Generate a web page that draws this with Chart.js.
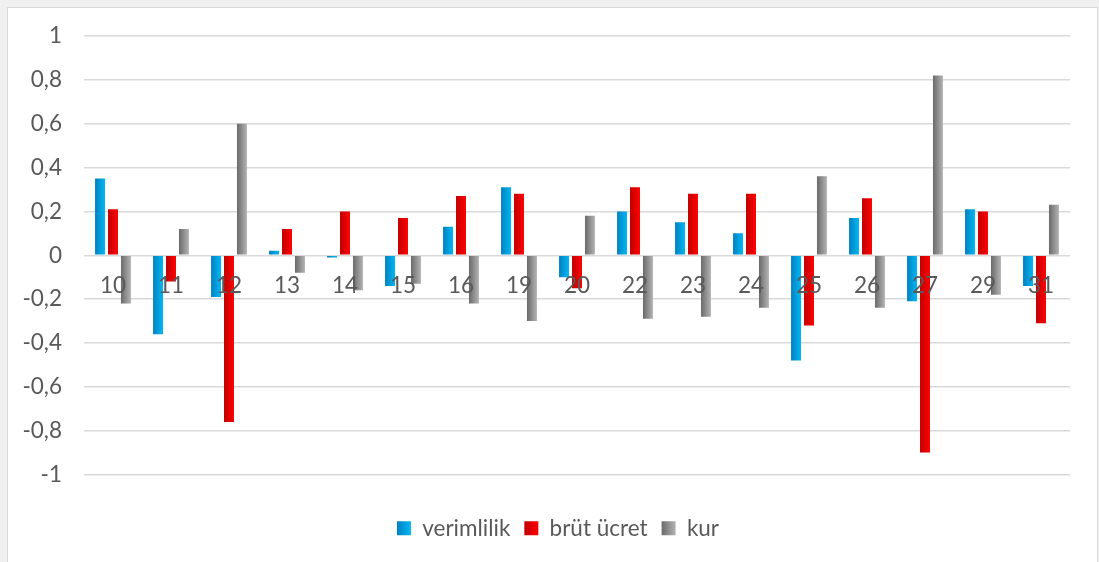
<!DOCTYPE html>
<html>
<head>
<meta charset="utf-8">
<script src="https://cdn.jsdelivr.net/npm/chart.js@4.4.1/dist/chart.umd.min.js"></script>
<style>
    html, body { margin: 0; padding: 0; background: #f0f0f0; overflow: hidden; width: 1099px; height: 562px; }
    #box { position: absolute; left: 7px; top: 7px; width: 1089px; height: 600px; background: #fff; border: 1px solid #d9d9d9; }
    #chart { display: block; }
</style>
</head>
<body>
<div id="box"><canvas id="chart" width="1089" height="560"></canvas></div>
<script>
(function () {
    const categories = ['10', '11', '12', '13', '14', '15', '16', '19', '20', '22', '23', '24', '25', '26', '27', '29', '31'];
    const verimlilik = [0.35, -0.36, -0.19, 0.02, -0.01, -0.14, 0.13, 0.31, -0.10, 0.20, 0.15, 0.10, -0.48, 0.17, -0.21, 0.21, -0.14];
    const brutUcret = [0.21, -0.12, -0.76, 0.12, 0.20, 0.17, 0.27, 0.28, -0.15, 0.31, 0.28, 0.28, -0.32, 0.26, -0.90, 0.20, -0.31];
    const kur = [-0.22, 0.12, 0.60, -0.08, -0.16, -0.13, -0.22, -0.30, 0.18, -0.29, -0.28, -0.24, 0.36, -0.24, 0.82, -0.18, 0.23];
    const seriesNames = ['verimlilik', 'brüt ücret', 'kur'];

    // left (dark) to right (light) shading of each bar
    const shades = [
        ['#0080c0', '#00b8f4'],
        ['#c00000', '#ff0000'],
        ['#6a6a6a', '#b4b4b4']
    ];
    const textColor = '#595959';
    const font = { family: 'Lato', size: 22.5 };
    const legendShift = 19; // legend sits a little right of the plot centre

    function decimalComma(value) {
        return String(Number(value.toFixed(1))).replace('.', ',');
    }
    function shade(ctx, left, width, pair) {
        const g = ctx.createLinearGradient(left, 0, left + width, 0);
        g.addColorStop(0, pair[0]);
        g.addColorStop(1, pair[1]);
        return g;
    }

    // bars share one options object, so each one gets its own copy with its gradient
    const gradientPlugin = {
        id: 'barGradient',
        afterLayout(chart) {
            if (chart.legend) {
                chart.legend.left += legendShift;
                chart.legend.right += legendShift;
            }
        },
        beforeDraw(chart) {
            const ctx = chart.ctx;
            chart.data.datasets.forEach(function (ds, i) {
                chart.getDatasetMeta(i).data.forEach(function (bar) {
                    const fill = shade(ctx, bar.x - bar.width / 2, bar.width, shades[i]);
                    bar.options = Object.assign({}, bar.options, { backgroundColor: fill });
                });
            });
            const legend = chart.legend;
            if (legend && legend.legendItems) {
                legend.legendItems.forEach(function (item, i) {
                    const box = legend.legendHitBoxes[i];
                    if (box) item.fillStyle = shade(ctx, box.left, 14, shades[item.datasetIndex]);
                });
            }
        }
    };

    new Chart(document.getElementById('chart'), {
        type: 'bar',
        data: {
            labels: categories,
            datasets: [verimlilik, brutUcret, kur].map(function (values, i) {
                return {
                    label: seriesNames[i],
                    data: values,
                    backgroundColor: shades[i][1],
                    borderWidth: 0,
                    barPercentage: 0.77,
                    categoryPercentage: 0.67
                };
            })
        },
        options: {
            responsive: false,
            animation: false,
            layout: { padding: { left: 0, right: 27, top: 28, bottom: 18.5 } },
            scales: {
                x: {
                    position: { y: 0 },
                    grid: { display: false, drawTicks: false },
                    border: { display: false },
                    // category labels are painted on top of the bars
                    ticks: { z: 1, color: textColor, font: font, padding: 17, maxRotation: 0, autoSkip: false }
                },
                gap: {
                    type: 'category',
                    position: 'bottom',
                    grid: { display: false, drawTicks: false },
                    border: { display: false },
                    ticks: { display: false },
                    afterFit: function (scale) { scale.height = 28.5; }
                },
                y: {
                    min: -1,
                    max: 1,
                    grid: { color: '#d9d9d9', lineWidth: 1.5, drawTicks: true, tickLength: 22, tickColor: 'rgba(0,0,0,0)' },
                    border: { display: false },
                    ticks: { stepSize: 0.2, color: textColor, font: font, padding: 0, callback: decimalComma },
                    afterFit: function (scale) { scale.width = 76; }
                }
            },
            plugins: {
                tooltip: { enabled: false },
                legend: {
                    position: 'bottom',
                    labels: { color: textColor, font: font, boxWidth: 14, boxHeight: 14, padding: 14 }
                }
            }
        },
        plugins: [gradientPlugin]
    });
}());
</script>
</body>
</html>
